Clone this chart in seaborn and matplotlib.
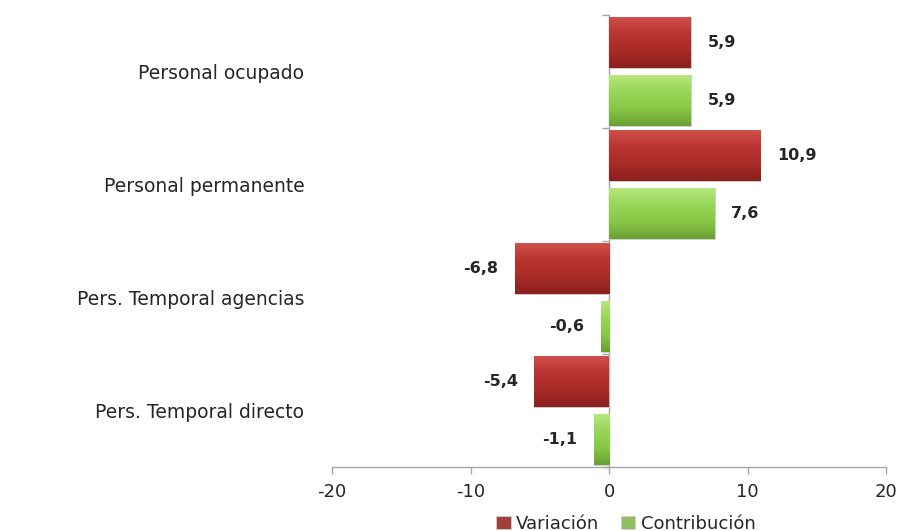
import numpy as np
import pandas as pd
import matplotlib
matplotlib.use("Agg")
import matplotlib.pyplot as plt
import seaborn as sns
from matplotlib.colors import LinearSegmentedColormap

categorias = ["Personal ocupado", "Personal permanente",
              "Pers. Temporal agencias", "Pers. Temporal directo"]
variacion = [5.9, 10.9, -6.8, -5.4]
contribucion = [5.9, 7.6, -0.6, -1.1]
series = ["Variación", "Contribución"]
x_ticks = [-20, -10, 0, 10, 20]

df = pd.DataFrame({
    "categoria": categorias * 2,
    "serie": [series[0]] * len(categorias) + [series[1]] * len(categorias),
    "valor": variacion + contribucion,
})

sns.set_theme(style="white")
plt.rcParams["font.family"] = ["DejaVu Sans"]

base = {"Variación": "#B3302D", "Contribución": "#8FCF4E"}
ramps = {
    "Variación": ["#D0504B", "#BA3531", "#A82B28", "#8A201E"],
    "Contribución": ["#B8E883", "#98D657", "#88C846", "#6A9F33"],
}

fig = plt.figure(figsize=(9.1, 5.31), dpi=100)
ax = fig.add_axes([0.365, 0.12, 0.609, 0.852])

sns.barplot(data=df, y="categoria", x="valor", hue="serie", orient="h",
            order=categorias, hue_order=series, palette=base,
            width=1.03, gap=0.12, edgecolor="#D0D0D0", linewidth=0.6,
            ax=ax, legend=True)

# vertical gradient fill inside each bar, plus value labels at the bar ends
for container, name in zip(ax.containers, series):
    cmap = LinearSegmentedColormap.from_list(name, ramps[name])
    grad = np.linspace(0, 1, 64).reshape(-1, 1)
    for patch, val in zip(container.patches, container.datavalues):
        x0, y0 = patch.get_x(), patch.get_y()
        w, h = patch.get_width(), patch.get_height()
        im = ax.imshow(grad, cmap=cmap, aspect="auto",
                       extent=(x0, x0 + w, y0 + h, y0),
                       origin="upper", zorder=patch.get_zorder() + 0.1)
        im.set_clip_path(patch)
        end = x0 + w
        ax.annotate(f"{val:.1f}".replace(".", ","),
                    xy=(end, y0 + h / 2), xycoords="data",
                    xytext=(12 if val >= 0 else -12, 0),
                    textcoords="offset points",
                    ha="left" if val >= 0 else "right", va="center",
                    fontsize=11.5, fontweight="bold", color="#262626")

ax.set_xlim(-20, 20)
ax.set_ylim(len(categorias) - 0.5, -0.5)
ax.set_xticks(x_ticks)
ax.set_xticklabels([str(t) for t in x_ticks])
ax.set_xlabel("")
ax.set_ylabel("")

for s in ["top", "right", "left"]:
    ax.spines[s].set_visible(False)
ax.spines["bottom"].set_color("#A6A6A6")
ax.spines["bottom"].set_linewidth(1.0)
ax.tick_params(axis="x", bottom=True, direction="out", length=5, width=1,
               color="#A6A6A6", labelsize=13, labelcolor="#262626", pad=6)
ax.tick_params(axis="y", left=False, labelsize=13.5, labelcolor="#262626",
               pad=14)

# category axis drawn at zero
zero_axis = ax.secondary_yaxis(0.5)
zero_axis.set_yticks(np.arange(-0.5, len(categorias), 1.0))
zero_axis.set_yticklabels([])
zero_axis.tick_params(axis="y", direction="in", length=5, width=1,
                      color="#A6A6A6")
for sp in zero_axis.spines.values():
    sp.set_color("#A6A6A6")
    sp.set_linewidth(1.0)

handles, lbls = ax.get_legend_handles_labels()
leg = ax.legend(handles, lbls, loc="center", bbox_to_anchor=(0.53, -0.125),
                ncol=2, frameon=False, fontsize=13, handlelength=0.8,
                handleheight=0.8, handletextpad=0.3, columnspacing=1.2,
                borderpad=0.1)
for t in leg.get_texts():
    t.set_color("#262626")

fig.savefig("out.png", dpi=100)
